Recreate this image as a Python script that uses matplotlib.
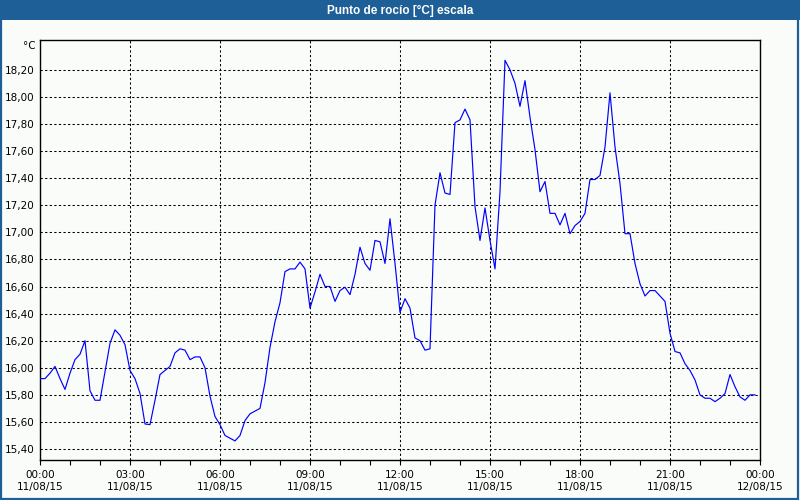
import matplotlib
matplotlib.use("Agg")
import matplotlib.pyplot as plt
from matplotlib.patches import Rectangle
from matplotlib.ticker import FixedLocator, FuncFormatter, MultipleLocator
import numpy as np

# ---- data (10-minute samples, 11/08/15 00:00 .. 23:50) ----
dew_point = [
    15.92, 15.92, 15.96, 16.01, 15.92, 15.84, 15.96, 16.06, 16.10, 16.20,
    15.83, 15.76, 15.76, 15.97, 16.18, 16.28, 16.24, 16.17, 15.98, 15.92,
    15.81, 15.585, 15.58, 15.76, 15.95, 15.98, 16.01, 16.11, 16.14, 16.13,
    16.06, 16.08, 16.08, 16.00, 15.79, 15.64, 15.58, 15.50, 15.48, 15.46,
    15.50, 15.61, 15.66, 15.68, 15.70, 15.89, 16.15, 16.34, 16.48, 16.71,
    16.73, 16.73, 16.78, 16.73, 16.44, 16.56, 16.69, 16.60, 16.60, 16.49,
    16.57, 16.595, 16.54, 16.69, 16.89, 16.77, 16.72, 16.94, 16.93, 16.77,
    17.10, 16.77, 16.41, 16.51, 16.44, 16.22, 16.20, 16.13, 16.14, 17.20,
    17.44, 17.29, 17.28, 17.81, 17.83, 17.91, 17.83, 17.19, 16.94, 17.18,
    16.94, 16.73, 17.30, 18.27, 18.20, 18.10, 17.93, 18.12, 17.85, 17.61,
    17.30, 17.375, 17.14, 17.14, 17.055, 17.14, 16.99, 17.05, 17.08, 17.14,
    17.39, 17.39, 17.42, 17.63, 18.03, 17.63, 17.36, 16.99, 16.99, 16.77,
    16.62, 16.53, 16.57, 16.57, 16.53, 16.49, 16.255, 16.12, 16.11, 16.03,
    15.98, 15.91, 15.80, 15.775, 15.775, 15.75, 15.775, 15.81, 15.95, 15.86,
    15.785, 15.76, 15.80, 15.80,
]
sample_minutes = 10
tick_hours = [0, 3, 6, 9, 12, 15, 18, 21, 24]
tick_labels = ["00:00\n11/08/15", "03:00\n11/08/15", "06:00\n11/08/15",
               "09:00\n11/08/15", "12:00\n11/08/15", "15:00\n11/08/15",
               "18:00\n11/08/15", "21:00\n11/08/15", "00:00\n12/08/15"]
y_ticks = [15.4, 15.6, 15.8, 16.0, 16.2, 16.4, 16.6, 16.8, 17.0, 17.2,
           17.4, 17.6, 17.8, 18.0, 18.2]
title = "Punto de rocío [°C] escala"
unit = "°C"

hours = np.arange(len(dew_point)) * sample_minutes / 60.0

BG = "#fafcfa"
BAR = "#1d5f96"

fig = plt.figure(figsize=(8, 5), dpi=100, facecolor=BG)

# title bar and frame
fig.patches.append(Rectangle((0, 1 - 20 / 500), 1, 20 / 500, transform=fig.transFigure,
                             facecolor=BAR, edgecolor="none", zorder=0))
fig.patches.append(Rectangle((0.001, 0.002), 0.997, 0.99, transform=fig.transFigure,
                             facecolor="none", edgecolor=BAR, linewidth=1.6, zorder=1))
fig.text(0.5, 1 - 10.5 / 500, title, ha="center", va="center", color="white",
         fontsize=8.5, fontweight="bold", family="Liberation Sans")

ax = fig.add_axes([40 / 800, 1 - 460 / 500, 720 / 800, 420 / 500])
ax.set_facecolor(BG)
ax.plot(hours, dew_point, color="#0000ff", linewidth=0.85, zorder=3)

ax.set_xlim(0, 24)
ax.set_ylim(15.319, 18.42)

ax.xaxis.set_major_locator(FixedLocator(tick_hours))
ax.set_xticklabels(tick_labels)
ax.xaxis.set_minor_locator(MultipleLocator(1))
ax.yaxis.set_major_locator(FixedLocator(y_ticks))
ax.yaxis.set_major_formatter(FuncFormatter(lambda v, p: f"{v:.2f}".replace(".", ",")))

ax.tick_params(axis="x", which="both", direction="out", length=3.5, width=0.8,
               labelsize=7.5, pad=4, colors="black")
ax.tick_params(axis="y", which="both", length=0, labelsize=7.5, pad=4, colors="black")

ax.grid(True, which="major", color="black", linestyle=(0, (2.2, 2.2)), linewidth=0.75)
ax.set_axisbelow(True)
for s in ax.spines.values():
    s.set_color("black")
    s.set_linewidth(1.0)

ax.text(-4 / 720, 1 - 6 / 420, unit, transform=ax.transAxes, ha="right", va="center",
        fontsize=7.5, color="black")

fig.savefig("out.png", dpi=100, facecolor=BG)
